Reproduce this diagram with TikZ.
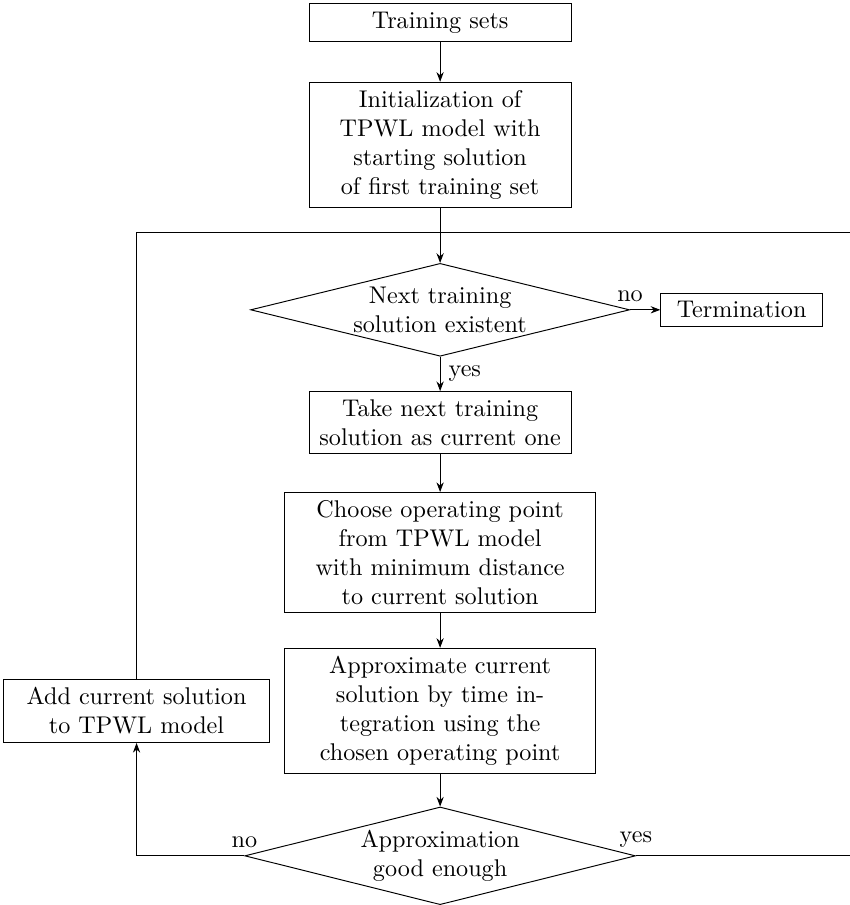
\documentclass[tikz,border=0pt]{standalone}
\usetikzlibrary{arrows.meta,positioning,calc,shapes.geometric}

\begin{document}
\begin{tikzpicture}[>={Stealth[length=4pt,width=3pt]},node distance=5mm]
  \tikzstyle{box}=[draw,align=center,minimum width=3.81cm]
  \tikzstyle{wbox}=[draw,align=center,minimum width=4.52cm]
  \tikzstyle{dec}=[draw,diamond,aspect=4,inner sep=0pt,align=center]
  \useasboundingbox (-6.40,0.33) rectangle (5.96,-12.83);
  \node[box] (ts) {Training sets};
  \node[box,below=5.8mm of ts] (init) {Initialization of\\TPWL model with\\starting solution\\of first training set};
  \node[dec,minimum width=5.51cm,minimum height=1.35cm,below=8mm of init] (d1) {Next training\\solution existent};
  \node[draw,minimum width=2.35cm,right=4.4mm of d1] (term) {Termination};
  \node[box,below=of d1] (take) {Take next training\\solution as current one};
  \node[wbox,below=5.5mm of take] (choose) {Choose operating point\\from TPWL model\\with minimum distance\\to current solution};
  \node[wbox,below=of choose] (approx) {Approximate current\\solution by time in-\\tegration using the\\chosen operating point};
  \node[dec,minimum width=5.68cm,minimum height=1.42cm,below=4.7mm of approx] (d2) {Approximation\\good enough};
  \node[draw,align=center,minimum width=3.88cm,left=2mm of approx] (add) {Add current solution\\to TPWL model};
  \coordinate[above=4.4mm of d1.north] (jn);
  \coordinate (rt) at ($(jn)+(6.2,0)$);
  \draw[->] (ts) -- (init);
  \draw[->] (init) -- (d1);
  \draw[->] (d1.east) -- (term);
  \node[above] (no1) at (d1.east) {no};
  \draw[->] (d1) -- node[right] (yes1) {yes} (take);
  \draw[->] (take) -- (choose);
  \draw[->] (choose) -- (approx);
  \draw[->] (approx) -- (d2);
  \draw[->] (d2.west) -| (add);
  \node[above] (no2) at (d2.west) {no};
  \node[above] (yes2) at (d2.east) {yes};
  \draw (d2.east) -| (rt);
  \draw (add) |- (rt);
\end{tikzpicture}
\end{document}
